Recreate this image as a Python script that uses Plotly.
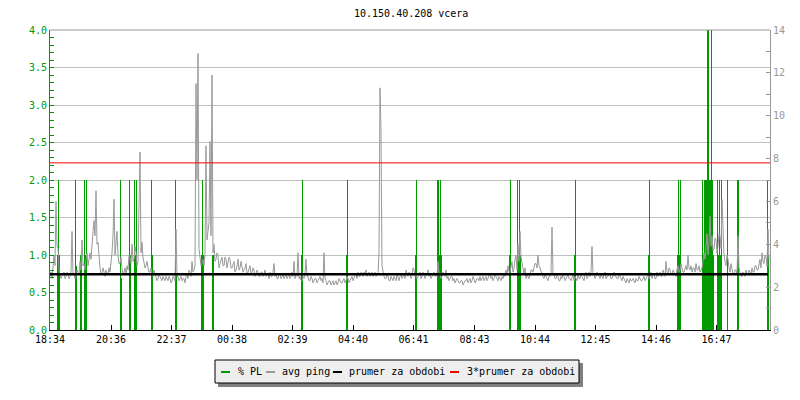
import plotly.graph_objects as go

title_text = "10.150.40.208 vcera"

# x-axis tick labels (offsets computed as minutes after the first label)
tick_labels = ["18:34", "20:36", "22:37", "00:38", "02:39", "04:40",
               "06:41", "08:43", "10:44", "12:45", "14:46", "16:47"]

# avg ping (ms), one sample every 2 minutes starting 18:34
ping_step_min = 2
ping_ms = [
    2.5, 2.7, 2.4, 2.9, 3.5, 3.0, 6.0, 3.9, 3.8, 2.8,
    2.6, 2.4, 2.5, 2.6, 2.7, 2.4, 2.5, 2.7, 2.6, 2.4,
    2.5, 2.7, 4.6, 2.6, 2.6, 2.4, 2.5, 2.8, 2.7, 2.6,
    3.2, 2.8, 4.2, 3.0, 3.1, 2.8, 3.3, 3.6, 3.0, 3.4,
    3.6, 3.3, 4.2, 4.6, 5.1, 4.4, 6.5, 4.0, 4.1, 3.2,
    2.9, 2.6, 2.7, 2.9, 2.6, 2.5, 2.8, 2.6, 2.6, 2.9,
    2.7, 3.1, 3.6, 4.4, 6.1, 3.5, 4.0, 4.6, 3.5, 3.1,
    3.1, 3.4, 2.9, 2.6, 2.7, 2.9, 2.6, 3.0, 2.8, 3.5,
    3.4, 3.1, 4.0, 3.2, 3.3, 3.9, 3.6, 3.0, 3.2, 7.2,
    8.3, 3.6, 4.1, 3.4, 3.2, 2.9, 3.0, 3.2, 2.9, 2.7,
    2.7, 2.9, 2.6, 2.5, 2.8, 2.6, 2.5, 2.3, 2.4, 2.6,
    2.5, 2.4, 2.3, 2.5, 2.4, 2.3, 2.5, 2.4, 2.3, 2.5,
    2.4, 2.2, 2.3, 2.5, 2.4, 2.3, 4.7, 2.5, 2.5, 2.3,
    2.4, 2.5, 2.3, 2.4, 2.4, 2.2, 2.5, 2.6, 2.4, 2.8,
    2.7, 2.5, 3.2, 2.7, 2.8, 3.0, 11.5, 7.0, 12.9, 3.8,
    3.4, 3.0, 3.1, 3.3, 3.0, 3.6, 8.6, 4.2, 4.6, 5.0,
    8.8, 4.4, 11.9, 3.6, 4.0, 3.2, 3.3, 3.6, 3.5, 2.9,
    3.1, 3.3, 3.4, 3.0, 3.0, 3.4, 3.3, 2.9, 3.1, 3.4,
    3.3, 2.9, 2.9, 3.1, 3.2, 2.7, 2.8, 3.0, 3.3, 2.8,
    2.9, 3.2, 3.0, 2.7, 2.8, 2.9, 3.1, 2.6, 2.7, 2.9,
    3.0, 2.6, 2.7, 2.9, 2.8, 2.5, 2.6, 2.8, 2.7, 2.5,
    2.5, 2.7, 2.7, 2.5, 2.6, 2.8, 2.5, 2.6, 2.6, 2.4,
    2.7, 2.5, 2.5, 2.7, 3.1, 2.5, 2.6, 2.4, 2.4, 2.6,
    2.6, 2.4, 2.5, 2.6, 2.4, 2.5, 2.6, 2.4, 2.5, 2.6,
    2.4, 2.5, 2.7, 2.5, 3.2, 2.4, 2.6, 2.5, 3.6, 2.4,
    2.5, 2.3, 2.3, 2.5, 2.4, 2.6, 3.3, 2.5, 2.5, 2.3,
    2.3, 2.5, 2.4, 2.2, 2.3, 2.4, 2.4, 2.2, 2.3, 2.4,
    2.5, 2.3, 2.4, 2.2, 3.6, 2.4, 2.3, 2.1, 2.2, 2.3,
    2.3, 2.1, 2.2, 2.3, 2.1, 2.2, 2.3, 2.1, 2.2, 2.4,
    2.3, 2.2, 2.2, 2.3, 2.4, 2.2, 2.3, 2.5, 2.4, 2.2,
    2.3, 2.4, 2.5, 2.3, 2.4, 2.6, 2.6, 2.4, 2.7, 2.5,
    2.5, 2.7, 2.6, 2.5, 2.7, 2.6, 2.8, 2.5, 2.6, 2.7,
    2.5, 2.6, 2.7, 2.5, 2.6, 2.7, 2.5, 2.6, 2.6, 3.6,
    11.3, 9.3, 3.0, 2.6, 2.5, 2.4, 2.4, 2.6, 2.5, 2.3,
    2.3, 2.5, 2.4, 2.3, 2.5, 2.4, 2.3, 2.6, 2.4, 2.3,
    2.5, 2.6, 2.4, 2.5, 2.6, 2.4, 2.8, 2.6, 2.5, 2.7,
    2.6, 2.4, 2.5, 2.9, 2.8, 2.5, 2.6, 2.4, 2.5, 2.6,
    2.7, 2.4, 2.5, 2.7, 2.6, 2.4, 2.5, 2.6, 2.8, 2.5,
    2.6, 2.4, 2.5, 2.6, 2.7, 2.5, 2.6, 2.5, 3.2, 2.7,
    2.6, 2.4, 2.5, 2.7, 2.6, 2.5, 2.8, 2.4, 2.5, 2.3,
    2.4, 2.5, 2.5, 2.3, 2.4, 2.2, 2.3, 2.4, 2.3, 2.2,
    2.2, 2.3, 2.3, 2.1, 2.2, 2.3, 2.3, 2.4, 2.2, 2.3,
    2.4, 2.2, 2.3, 2.5, 2.4, 2.2, 2.3, 2.4, 2.4, 2.3,
    2.5, 2.3, 2.4, 2.5, 2.3, 2.4, 2.5, 2.3, 2.4, 2.6,
    2.6, 2.4, 2.5, 2.3, 2.4, 2.6, 2.5, 2.4, 2.3, 2.5,
    2.4, 2.3, 2.5, 2.4, 2.6, 2.5, 2.8, 2.6, 3.0, 2.7,
    2.7, 3.0, 3.2, 2.7, 2.9, 3.3, 3.5, 2.8, 4.0, 3.2,
    4.6, 3.4, 3.1, 2.7, 2.6, 2.9, 2.4, 2.6, 2.5, 2.4,
    2.6, 2.8, 2.8, 2.7, 2.9, 3.1, 3.1, 2.9, 3.5, 3.0,
    2.9, 2.7, 2.6, 2.5, 2.4, 2.6, 2.5, 2.4, 2.3, 2.5,
    2.5, 2.6, 4.8, 2.6, 2.6, 2.4, 2.4, 2.6, 2.5, 2.3,
    2.3, 2.5, 2.4, 2.6, 2.5, 2.3, 2.4, 2.5, 2.6, 2.4,
    2.4, 2.3, 2.5, 2.6, 2.3, 2.5, 2.4, 2.3, 2.6, 2.4,
    2.4, 2.6, 2.5, 2.4, 2.3, 2.6, 2.7, 2.4, 2.5, 2.7,
    2.5, 2.7, 3.9, 2.6, 2.6, 2.4, 2.5, 2.7, 2.6, 2.5,
    2.4, 2.6, 2.5, 2.4, 2.6, 2.7, 2.4, 2.5, 2.5, 2.6,
    2.6, 2.4, 2.4, 2.6, 2.7, 2.5, 2.5, 2.4, 2.4, 2.6,
    2.5, 2.4, 2.3, 2.5, 2.4, 2.3, 2.2, 2.4, 2.3, 2.2,
    2.4, 2.3, 2.3, 2.4, 2.3, 2.2, 2.4, 2.3, 2.3, 2.5,
    2.4, 2.3, 2.3, 2.4, 2.5, 2.3, 2.4, 2.5, 2.6, 2.4,
    2.5, 2.7, 2.4, 2.6, 2.6, 2.4, 2.4, 2.7, 2.5, 2.6,
    2.7, 2.5, 2.5, 2.8, 2.6, 2.5, 3.2, 2.7, 2.6, 2.9,
    2.8, 2.6, 2.6, 2.8, 2.7, 2.6, 2.5, 2.8, 3.0, 2.7,
    2.8, 3.1, 2.9, 2.7, 2.7, 2.9, 3.0, 2.8, 3.5, 2.9,
    2.8, 3.0, 2.7, 2.9, 2.9, 2.7, 3.1, 2.8, 2.8, 3.0,
    2.7, 2.8, 2.9, 3.2, 3.6, 3.3, 4.0, 4.5, 3.5, 4.1,
    5.3, 3.9, 4.4, 3.7, 3.8, 4.3, 4.2, 3.6, 3.9, 4.5,
    4.4, 3.8, 6.1, 4.2, 3.5, 3.2, 3.0, 3.5, 3.3, 2.9,
    2.7, 3.1, 2.9, 2.6, 2.6, 2.8, 2.8, 2.6, 4.4, 2.9,
    2.7, 2.5, 2.5, 2.7, 2.6, 2.5, 2.8, 2.6, 2.6, 2.8,
    2.7, 2.6, 2.9, 2.7, 2.7, 3.0, 3.0, 2.8, 2.8, 3.1,
    3.3, 2.9, 3.6, 3.2, 3.1, 3.5, 3.4, 3.0, 4.7, 3.2,
]

# packet loss (%) - non-zero samples only (minute offset, value)
pl_minutes = [14, 16, 18, 50, 52, 60, 62, 68, 70, 72,
              140, 142, 158, 160, 168, 170, 172, 202, 204, 250,
              252, 302, 304, 306, 324, 326, 502, 504, 592, 594,
              730, 732, 774, 776, 778, 780, 782, 918, 920, 934,
              936, 938, 940, 1048, 1050, 1196, 1198, 1254, 1256, 1258,
              1260, 1304, 1306, 1308, 1310, 1312, 1314, 1316, 1318, 1320,
              1322, 1324, 1326, 1334, 1336, 1338, 1340, 1342, 1354, 1374,
              1376, 1434, 1436]
pl_values = [1.0, 2.0, 1.0, 2.0, 0.85, 1.0, 1.0, 2.0, 1.0, 2.0,
             2.0, 0.7, 2.0, 1.0, 2.0, 1.0, 2.0, 2.0, 1.0, 2.0,
             0.73, 1.0, 2.0, 1.0, 1.0, 1.0, 1.0, 2.0, 1.0, 2.0,
             1.0, 2.0, 2.0, 2.0, 1.0, 2.0, 1.0, 1.0, 2.0, 2.0,
             1.0, 2.0, 1.0, 1.0, 2.0, 1.0, 2.0, 1.0, 2.0, 1.0,
             2.0, 2.0, 1.0, 2.0, 2.0, 2.0, 5.0, 5.0, 2.0, 2.0,
             5.0, 2.0, 1.0, 2.0, 1.0, 2.0, 1.0, 2.0, 2.0, 2.0,
             2.0, 2.0, 1.0]

prumer_ms = 2.6
prumer3_ms = 7.8

legend_names = ["% PL", "avg ping", "prumer za obdobi", "3*prumer za obdobi"]

GREEN = "#009900"
GRAY = "#999999"
GRID = "#c0c0c0"
RED = "#ff0000"
FONT = "DejaVu Sans Mono"


def hm_to_offset(label):
    h, m = map(int, label.split(":"))
    start_h, start_m = map(int, tick_labels[0].split(":"))
    return ((h * 60 + m) - (start_h * 60 + start_m)) % 1440


tick_vals = [hm_to_offset(t) for t in tick_labels]
ping_x = [i * ping_step_min for i in range(len(ping_ms))]

fig = go.Figure()

fig.add_trace(go.Bar(x=pl_minutes, y=pl_values, width=2, offset=0,
                     marker=dict(color=GREEN, line=dict(width=0)),
                     yaxis="y", showlegend=False, hoverinfo="skip"))
fig.add_trace(go.Scatter(x=ping_x, y=ping_ms, mode="lines",
                         line=dict(color=GRAY, width=1),
                         yaxis="y2", showlegend=False, hoverinfo="skip"))
fig.add_trace(go.Scatter(x=[0, 1436], y=[prumer_ms, prumer_ms], mode="lines",
                         line=dict(color="#000000", width=2.5),
                         yaxis="y2", showlegend=False, hoverinfo="skip"))
fig.add_trace(go.Scatter(x=[0, 1440], y=[prumer3_ms, prumer3_ms], mode="lines",
                         line=dict(color=RED, width=1),
                         yaxis="y2", showlegend=False, hoverinfo="skip"))

# plot area in pixels: x 50..770, y 30..330
L, R, T, B = 50, 770, 30, 330


def px(x):
    return (x - L) / (R - L)


def py(y):
    return (B - y) / (B - T)


shapes = []
annotations = []
# legend shadow and box
shapes.append(dict(type="rect", xref="paper", yref="paper",
                   x0=px(218), x1=px(583), y0=py(363), y1=py(387),
                   fillcolor="#808080", line=dict(width=0), layer="above"))
shapes.append(dict(type="rect", xref="paper", yref="paper",
                   x0=px(215), x1=px(579), y0=py(360), y1=py(383),
                   fillcolor="#eeeeee", line=dict(color="#000000", width=1),
                   layer="above"))
legend_colors = [GREEN, GRAY, "#000000", RED]
legend_line_x = [221, 266, 333, 450]
legend_text_x = [236, 280, 347, 465]
for name, col, lx, tx in zip(legend_names, legend_colors, legend_line_x, legend_text_x):
    shapes.append(dict(type="line", xref="paper", yref="paper",
                       x0=px(lx), x1=px(lx + 9), y0=py(372), y1=py(372),
                       line=dict(color=col, width=2), layer="above"))
    annotations.append(dict(text=name, xref="paper", yref="paper",
                            x=px(tx), y=py(371), xanchor="left", yanchor="middle",
                            showarrow=False,
                            font=dict(family=FONT, size=10, color="#000000")))
# top border
shapes.append(dict(type="line", xref="paper", yref="paper",
                   x0=0, x1=1, y0=1, y1=1, line=dict(color=GRAY, width=1)))

annotations.append(dict(text=title_text, xref="paper", yref="paper",
                        x=px(411), y=py(13), xanchor="center", yanchor="middle",
                        showarrow=False,
                        font=dict(family=FONT, size=10, color="#000000")))

fig.update_layout(
    width=800, height=400,
    margin=dict(l=L, r=800 - R, t=T, b=400 - B),
    paper_bgcolor="#ffffff", plot_bgcolor="#ffffff",
    showlegend=False,
    bargap=0,
    font=dict(family=FONT, size=10, color="#000000"),
    xaxis=dict(range=[0, 1440], tickmode="array", tickvals=tick_vals,
               ticktext=tick_labels, ticks="inside", ticklen=5,
               tickcolor="#000000", showline=True, linecolor="#000000",
               linewidth=1, showgrid=False, zeroline=False,
               tickfont=dict(family=FONT, size=10, color="#000000")),
    yaxis=dict(range=[0, 4], tick0=0, dtick=0.5, tickformat=".1f",
               ticks="inside", ticklen=4, tickcolor=GREEN,
               showline=True, linecolor=GREEN, linewidth=1,
               showgrid=True, gridcolor=GRID, gridwidth=1, zeroline=False,
               tickfont=dict(family=FONT, size=10, color=GREEN),
               minor=dict(dtick=0.1, ticks="inside", ticklen=4,
                          tickcolor=GREEN, showgrid=False)),
    yaxis2=dict(range=[0, 14], tick0=0, dtick=2, overlaying="y", side="right",
                ticks="inside", ticklen=4, tickcolor=GRAY,
                showline=True, linecolor=GRAY, linewidth=1,
                showgrid=False, zeroline=False,
                tickfont=dict(family=FONT, size=10, color=GRAY),
                minor=dict(dtick=1, ticks="inside", ticklen=4,
                           tickcolor=GRAY, showgrid=False)),
    shapes=shapes,
    annotations=annotations,
)

fig.write_html("out.html", config={"displayModeBar": False},
               post_script="document.body.style.margin='0';document.body.style.overflow='hidden';")
